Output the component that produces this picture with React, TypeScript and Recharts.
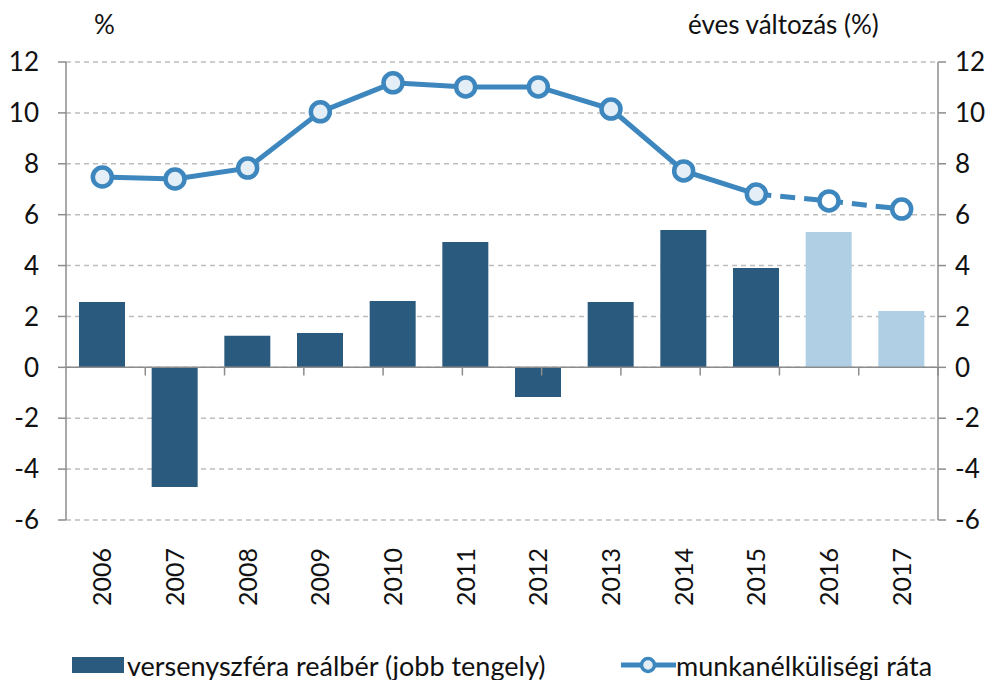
import React from "react";
import {
  ComposedChart,
  Bar,
  Line,
  XAxis,
  YAxis,
  CartesianGrid,
  ReferenceLine,
  Cell,
} from "recharts";

const years = ["2006", "2007", "2008", "2009", "2010", "2011", "2012", "2013", "2014", "2015", "2016", "2017"];
const realWage = [2.57, -4.7, 1.24, 1.35, 2.61, 4.93, -1.17, 2.57, 5.4, 3.9, 5.32, 2.21];
const unemployment = [7.48, 7.4, 7.83, 10.04, 11.18, 11.02, 11.02, 10.15, 7.72, 6.81, 6.54, 6.22];
const forecastYears = ["2016", "2017"];
const lastActualYear = "2015";
const yTicks = [-6, -4, -2, 0, 2, 4, 6, 8, 10, 12];

// category boundaries (between years) for the small ticks on the zero line
const boundaries = years.slice(1).map((_, i) => i + 1);

const FONT = "Lato, 'Open Sans', sans-serif";
const DARK = "#2a5b7e";
const LIGHT = "#b0cfe4";
const LINE = "#3d87be";
const AXIS = "#8c8c8c";

const data = years.map((year, i) => {
  const isForecast = forecastYears.includes(year);
  return {
    year,
    wage: realWage[i],
    rate: isForecast ? null : unemployment[i],
    forecast: isForecast || year === lastActualYear ? unemployment[i] : null,
    isForecast,
  };
});

const YearTick = (props: any) => {
  const { x, y, payload } = props;
  return (
    <text
      x={x}
      y={y + 20}
      transform={`rotate(-90 ${x} ${y + 20})`}
      textAnchor="end"
      dy="0.36em"
      fontSize={25}
      fontFamily={FONT}
      fill="#111"
    >
      {payload.value}
    </text>
  );
};

const ForecastDot = (props: any) => {
  const { cx, cy, payload, index } = props;
  if (!payload.isForecast || cx == null || cy == null) return <g key={`fd-${index}`} />;
  return (
    <circle key={`fd-${index}`} cx={cx} cy={cy} r={9.5} fill="#ffffff" stroke={LINE} strokeWidth={4.5} />
  );
};

const App = () => {
  const tickStyle = { fill: "#111", fontSize: 26, fontFamily: FONT };
  return (
    <div style={{ position: "relative", width: 998, height: 680, fontFamily: FONT, color: "#111" }}>
      <style>{"body{margin:0}"}</style>
      <ComposedChart
        width={998}
        height={680}
        data={data}
        margin={{ top: 62, right: 10, bottom: 60, left: 10 }}
      >
        <CartesianGrid
          yAxisId="left"
          vertical={false}
          stroke="#bdbdbd"
          strokeDasharray="5 4"
          strokeWidth={1.5}
        />
        <XAxis
          dataKey="year"
          height={100}
          axisLine={false}
          tickLine={false}
          interval={0}
          tick={<YearTick />}
        />
        <XAxis xAxisId="num" type="number" domain={[0, years.length]} hide />
        <YAxis
          yAxisId="left"
          width={56}
          domain={[-6, 12]}
          ticks={yTicks}
          interval={0}
          tickSize={8}
          tickMargin={19}
          axisLine={{ stroke: AXIS, strokeWidth: 1.5 }}
          tickLine={{ stroke: AXIS, strokeWidth: 1.5 }}
          tick={tickStyle}
        />
        <YAxis
          yAxisId="right"
          orientation="right"
          width={50}
          domain={[-6, 12]}
          ticks={yTicks}
          interval={0}
          tickSize={8}
          tickMargin={9}
          axisLine={{ stroke: AXIS, strokeWidth: 1.5 }}
          tickLine={{ stroke: AXIS, strokeWidth: 1.5 }}
          tick={{ ...tickStyle, textAnchor: "start" }}
        />
        <Bar yAxisId="right" dataKey="wage" barSize={46} isAnimationActive={false}>
          {data.map((d) => (
            <Cell key={d.year} fill={d.isForecast ? LIGHT : DARK} />
          ))}
        </Bar>
        <ReferenceLine yAxisId="right" y={0} stroke={AXIS} strokeWidth={1.5} />
        {boundaries.map((b) => (
          <ReferenceLine
            key={`b-${b}`}
            xAxisId="num"
            yAxisId="right"
            segment={[
              { x: b, y: 0 },
              { x: b, y: -0.32 },
            ]}
            stroke={AXIS}
            strokeWidth={1.5}
          />
        ))}
        <Line
          yAxisId="left"
          dataKey="forecast"
          stroke={LINE}
          strokeWidth={5}
          strokeDasharray="15 9"
          dot={ForecastDot}
          activeDot={false}
          isAnimationActive={false}
        />
        <Line
          yAxisId="left"
          dataKey="rate"
          stroke={LINE}
          strokeWidth={5}
          dot={{ r: 9.5, fill: "#e4eef6", stroke: LINE, strokeWidth: 4.5 }}
          activeDot={false}
          isAnimationActive={false}
        />
      </ComposedChart>
      <div style={{ position: "absolute", left: 94, top: 8, fontSize: 26 }}>%</div>
      <div style={{ position: "absolute", left: 688, top: 8, fontSize: 26 }}>éves változás (%)</div>
      <div
        style={{
          position: "absolute",
          left: 72,
          top: 648,
          height: 34,
          display: "flex",
          alignItems: "center",
          fontSize: 27,
          whiteSpace: "nowrap",
        }}
      >
        <span style={{ display: "inline-block", width: 52, height: 16, background: DARK, marginRight: 3 }} />
        <span>versenyszféra reálbér (jobb tengely)</span>
      </div>
      <div
        style={{
          position: "absolute",
          left: 620,
          top: 648,
          height: 34,
          display: "flex",
          alignItems: "center",
          fontSize: 27,
          whiteSpace: "nowrap",
        }}
      >
        <svg width={56} height={24}>
          <line x1={1} y1={12} x2={56} y2={12} stroke={LINE} strokeWidth={5} />
          <circle cx={28} cy={12} r={6.5} fill="#e4eef6" stroke={LINE} strokeWidth={3.5} />
        </svg>
        <span>munkanélküliségi ráta</span>
      </div>
    </div>
  );
};

export default App;
